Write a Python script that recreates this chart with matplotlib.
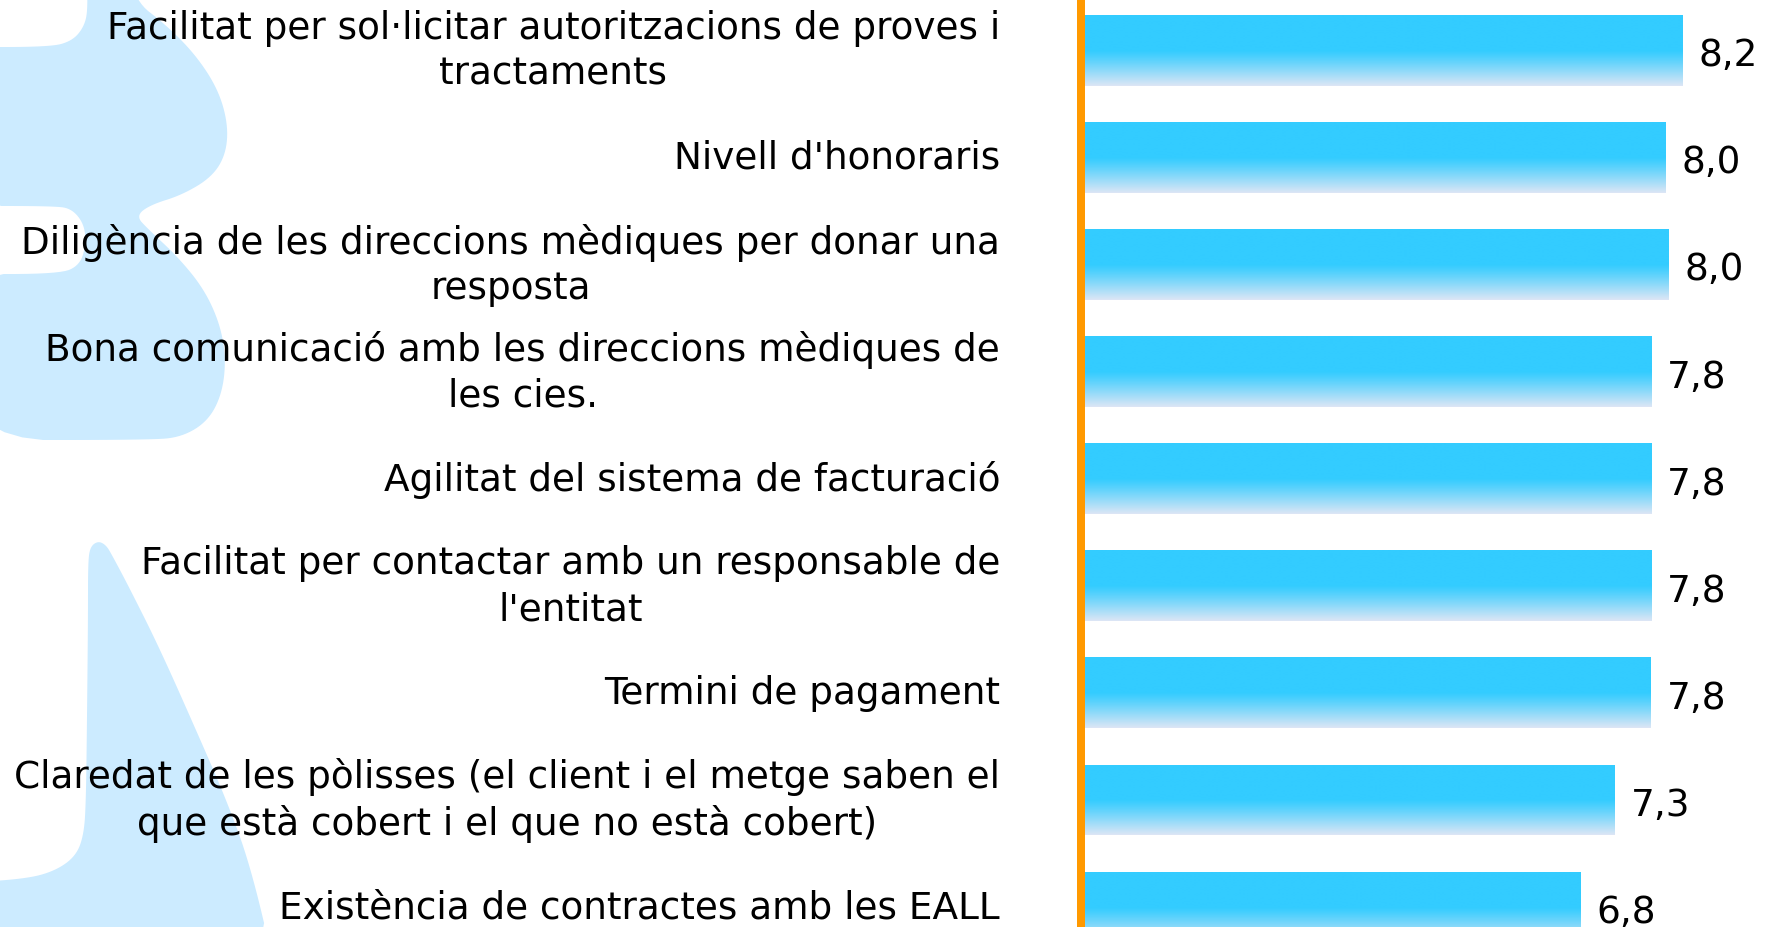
import numpy as np
import matplotlib
matplotlib.use("Agg")
import matplotlib.pyplot as plt
from matplotlib.patches import Polygon
from matplotlib.colors import to_rgb
from matplotlib.transforms import ScaledTranslation

# ---------------- data ----------------
categories = [
    "Facilitat per sol·licitar autoritzacions de proves i\ntractaments",
    "Nivell d'honoraris",
    "Diligència de les direccions mèdiques per donar una\nresposta",
    "Bona comunicació amb les direccions mèdiques de\nles cies.",
    "Agilitat del sistema de facturació",
    "Facilitat per contactar amb un responsable de\nl'entitat",
    "Termini de pagament",
    "Claredat de les pòlisses (el client i el metge saben el\nque està cobert i el que no està cobert)",
    "Existència de contractes amb les EALL",
]
values = [8.2, 7.96, 8.0, 7.77, 7.77, 7.77, 7.76, 7.27, 6.8]

# ---------------- style ----------------
W, H = 1769, 928
DPI = 100
BAR_COLOR = "#33CCFF"
BAR_FADE = "#DDE6F5"
AXIS_COLOR = "#FF9900"
WATERMARK = "#CCEBFF"
FONT = "DejaVu Sans"
FS = 26.9

plt.rcParams["font.family"] = [FONT]

fig = plt.figure(figsize=(W / DPI, H / DPI), dpi=DPI)
fig.patch.set_facecolor("white")

# ---------------- background watermark (decoration) ----------------
def chaikin(pts, iters=3):
    p = np.asarray(pts, dtype=float)
    for _ in range(iters):
        q = np.roll(p, -1, axis=0)
        a = 0.75 * p + 0.25 * q
        b = 0.25 * p + 0.75 * q
        p = np.empty((2 * len(p), 2))
        p[0::2] = a
        p[1::2] = b
    return p

def px_poly(pts, **kw):
    pts = chaikin(pts)
    xy = np.column_stack([pts[:, 0] / W, 1 - pts[:, 1] / H])
    return Polygon(xy, closed=True, transform=fig.transFigure, **kw)

top_shape = [
    (86, -40), (128, -40), (135, 2), (165, 25), (195, 55), (218, 90), (228, 125),
    (226, 155), (212, 178), (182, 196), (150, 206), (136, 217), (148, 230),
    (178, 258), (204, 290), (220, 325), (226, 360), (222, 395), (208, 422),
    (182, 438), (150, 441), (-40, 441),
    (-40, 275), (60, 275), (80, 266), (86, 245), (84, 225), (72, 210), (55, 207),
    (-40, 207), (-40, 48), (50, 48), (72, 42), (84, 28), (88, 10),
]
spike_shape = [
    (98, 542), (90, 548), (88, 565), (88, 620), (87, 720), (86, 800), (84, 835),
    (76, 857), (55, 872), (25, 880), (-40, 884), (-40, 970), (275, 970),
    (250, 865), (226, 800), (200, 740), (160, 650), (130, 590), (112, 556), (106, 546),
]
for shp in (top_shape, spike_shape):
    fig.add_artist(px_poly(shp, facecolor=WATERMARK, edgecolor="none", zorder=0))

# ---------------- axes ----------------
x0_px = 1081
px_per_unit = 73.4
bar_pitch = 107.1
first_center = 51.3
ax = fig.add_axes([x0_px / W, 0, 1 - x0_px / W, 1])
ax.patch.set_visible(False)

y = np.arange(len(categories))
bars = ax.barh(y, values, height=71 / bar_pitch, color="none",
               edgecolor="none", zorder=2)

# gradient fill clipped to each bar
c_top = np.array(to_rgb(BAR_COLOR))
c_bot = np.array(to_rgb(BAR_FADE))
n = 200
t = np.linspace(0, 1, n)
f = np.clip((t - 0.5) / 0.5, 0, 1) ** 1.1
grad = (c_top[None, :] * (1 - f[:, None]) + c_bot[None, :] * f[:, None])[:, None, :]
for b in bars:
    bx, by, bw, bh = b.get_x(), b.get_y(), b.get_width(), b.get_height()
    im = ax.imshow(grad, extent=(bx, bx + bw, by + bh, by), origin="upper",
                   aspect="auto", interpolation="bilinear", zorder=3)
    im.set_clip_path(b)

# value labels
for b, v in zip(bars, values):
    ax.annotate(f"{v:.1f}".replace(".", ","),
                xy=(b.get_width(), b.get_y() + b.get_height() / 2),
                xytext=(11.5, -0.3), textcoords="offset points",
                ha="left", va="center_baseline", fontsize=FS, color="black",
                zorder=5)

# orange axis line
ax.axvline(0, color=AXIS_COLOR, lw=8 * 72 / DPI, zorder=4, clip_on=False)

ax.set_xlim(0, (W - x0_px) / px_per_unit)
ax.set_ylim((H - first_center) / bar_pitch, -first_center / bar_pitch)

ax.set_yticks(y)
ax.set_yticklabels(categories, fontsize=FS, multialignment="center",
                   linespacing=1.3, va="center")
shift = ScaledTranslation(0, -2 / DPI, fig.dpi_scale_trans)
for lab in ax.get_yticklabels():
    lab.set_transform(lab.get_transform() + shift)
ax.tick_params(axis="y", length=0, pad=(x0_px - 1000) * 72 / DPI)
ax.set_xticks([])
for s in ax.spines.values():
    s.set_visible(False)

fig.savefig("out.png", dpi=DPI)
